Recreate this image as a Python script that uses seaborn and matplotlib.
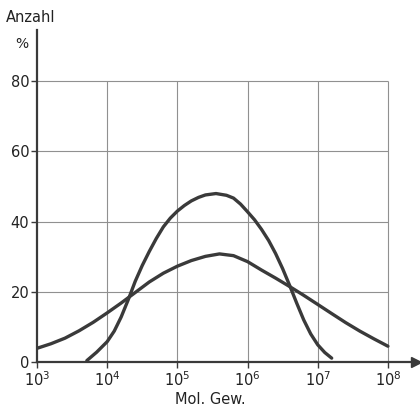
import numpy as np
import pandas as pd
import matplotlib
matplotlib.use("Agg")
import matplotlib.pyplot as plt
import seaborn as sns

# --- data ---
narrow_mw = [5.13e3, 7.08e3, 1.0e4, 1.26e4, 1.58e4, 2.0e4, 2.51e4, 3.16e4, 3.98e4,
             5.01e4, 6.31e4, 7.94e4, 1.0e5, 1.26e5, 1.58e5, 2.0e5, 2.51e5, 3.55e5,
             5.01e5, 6.31e5, 7.94e5, 1.0e6, 1.26e6, 1.58e6, 2.0e6, 2.51e6, 3.16e6,
             3.98e6, 5.01e6, 6.31e6, 7.94e6, 1.0e7, 1.26e7, 1.58e7]
narrow_pct = [0.4, 2.8, 5.8, 8.8, 12.8, 17.8, 23.0, 27.5, 31.5,
              35.2, 38.5, 41.0, 43.0, 44.6, 45.9, 46.9, 47.6, 48.0,
              47.5, 46.7, 45.0, 42.8, 40.5, 37.8, 34.6, 30.9, 26.6,
              21.8, 16.8, 12.0, 8.0, 4.9, 2.7, 1.1]

broad_mw = [1.0e3, 1.58e3, 2.51e3, 3.98e3, 6.31e3, 1.0e4, 1.58e4, 2.51e4, 3.98e4,
            6.31e4, 1.0e5, 1.58e5, 2.51e5, 3.98e5, 6.31e5, 1.0e6, 1.58e6, 2.51e6,
            3.98e6, 6.31e6, 1.0e7, 1.58e7, 2.51e7, 3.98e7, 6.31e7, 1.0e8]
broad_pct = [3.9, 5.2, 6.8, 8.9, 11.3, 14.0, 16.8, 19.8, 22.8,
             25.3, 27.3, 28.9, 30.1, 30.8, 30.3, 28.6, 26.2, 23.9,
             21.5, 19.0, 16.4, 13.8, 11.2, 8.8, 6.6, 4.5]

y_ticks = [0, 20, 40, 60, 80]
x_ticks = [1e3, 1e4, 1e5, 1e6, 1e7, 1e8]
x_tick_labels = ["10$^3$", "10$^4$", "10$^5$", "10$^6$", "10$^7$", "10$^8$"]

df = pd.concat([
    pd.DataFrame({"mw": narrow_mw, "pct": narrow_pct, "series": "eng"}),
    pd.DataFrame({"mw": broad_mw, "pct": broad_pct, "series": "breit"}),
])

sns.set_style("white")
plt.rcParams["font.family"] = ["DejaVu Sans"]

ink = "#3a3a3a"
fig = plt.figure(figsize=(4.2, 4.07), dpi=100)
ax = fig.add_axes([37 / 420, 45 / 407, 379 / 420, 332 / 407])

ax.set_xscale("log")
ax.set_xlim(1e3, 10 ** 8.4)
ax.set_ylim(0, 94.6)

# grid inside the box 10^3..10^8 x 0..80
ax.hlines([20, 40, 60, 80], 1e3, 1e8, color="#909090", lw=0.8, zorder=1)
ax.vlines([1e4, 1e5, 1e6, 1e7, 1e8], 0, 80, color="#909090", lw=0.8, zorder=1)

sns.lineplot(data=df, x="mw", y="pct", hue="series", units="series", estimator=None,
             palette={"eng": ink, "breit": ink}, legend=False, lw=2.4, ax=ax,
             zorder=3, sort=False)
for ln in ax.lines:
    ln.set_solid_capstyle("round")
    ln.set_solid_joinstyle("round")

for s in ["top", "right"]:
    ax.spines[s].set_visible(False)
for s in ["left", "bottom"]:
    ax.spines[s].set_color(ink)
    ax.spines[s].set_linewidth(1.6)

ax.plot(1, 0, ">", color=ink, ms=7, transform=ax.get_yaxis_transform(), clip_on=False)
ax.plot(0, 1, "^", color=ink, ms=7, transform=ax.get_xaxis_transform(), clip_on=False)

ax.set_yticks(y_ticks)
ax.set_xticks(x_ticks)
ax.set_xticklabels(x_tick_labels)
ax.minorticks_off()
ax.tick_params(axis="y", length=4, width=1.0, color=ink, labelsize=10.5, labelcolor="#222222", pad=1.5, left=True)
ax.tick_params(axis="x", length=4, width=1.0, color=ink, labelsize=10.5, labelcolor="#222222", pad=2, bottom=True)

ax.set_xlabel("")
ax.set_ylabel("")
fig.text(210 / 420, 1 - 400 / 407, "Mol. Gew.", ha="center", va="center", fontsize=10.5, color="#222222")
fig.text(6 / 420, 1 - 18 / 407, "Anzahl", ha="left", va="center", fontsize=10.5, color="#222222")
fig.text(22 / 420, 1 - 44 / 407, "%", ha="center", va="center", fontsize=10, color="#222222")

fig.savefig("out.png", dpi=100, facecolor="white")
